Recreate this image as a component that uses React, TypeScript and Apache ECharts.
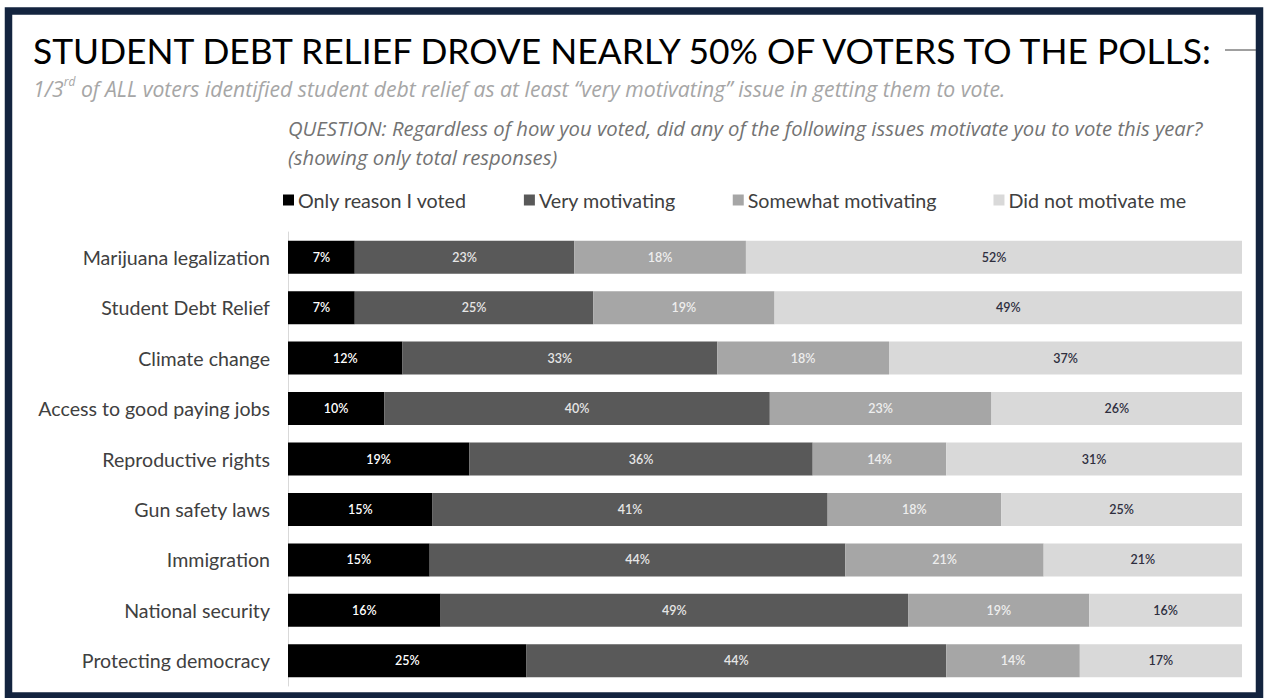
import React, { useEffect, useRef } from "react";
import * as echarts from "echarts";

const categories = [
  "Marijuana legalization",
  "Student Debt Relief",
  "Climate change",
  "Access to good paying jobs",
  "Reproductive rights",
  "Gun safety laws",
  "Immigration",
  "National security",
  "Protecting democracy",
];
const seriesNames = ["Only reason I voted", "Very motivating", "Somewhat motivating", "Did not motivate me"];
const onlyReason = [7, 7, 12, 10, 19, 15, 15, 16, 25];
const veryMotivating = [23, 25, 33, 40, 36, 41, 44, 49, 44];
const somewhatMotivating = [18, 19, 18, 23, 14, 18, 21, 19, 14];
const didNotMotivate = [52, 49, 37, 26, 31, 25, 21, 16, 17];

const FONT = "Lato, 'Open Sans', sans-serif";
const IFONT = "'Open Sans', Lato, sans-serif";

export default function App() {
  const ref = useRef<HTMLDivElement>(null);
  useEffect(() => {
    if (!ref.current) return;
    const chart = echarts.init(ref.current, null, { renderer: "svg" });
    const all = [onlyReason, veryMotivating, somewhatMotivating, didNotMotivate];
    const totals = categories.map((_, i) => all.reduce((s, arr) => s + arr[i], 0));
    const colors = ["#000000", "#595959", "#a6a6a6", "#d9d9d9"];
    const labelColors = ["#ffffff", "#e6e6e6", "#eeeeee", "#2e2e3e"];
    const series = all.map((arr, si) => ({
      name: seriesNames[si],
      type: "bar",
      stack: "total",
      barWidth: 33,
      itemStyle: { color: colors[si] },
      label: {
        show: true,
        position: "inside",
        color: labelColors[si],
        fontFamily: FONT,
        fontSize: 12.5,
        fontWeight: 600,
        formatter: (p: any) => p.data.raw + "%",
      },
      emphasis: { disabled: true },
      data: arr.map((v, i) => ({ value: (v / totals[i]) * 100, raw: v })),
    }));

    chart.setOption({
      animation: false,
      backgroundColor: "#ffffff",
      textStyle: { fontFamily: FONT },
      legend: {
        data: seriesNames,
        left: 283,
        top: 190,
        padding: 0,
        icon: "rect",
        itemWidth: 11,
        itemHeight: 11,
        itemGap: 57,
        textStyle: { fontSize: 19.7, color: "#404040", fontFamily: FONT, padding: [0, 0, 0, -1] },
        selectedMode: false,
      },
      grid: { left: 288, right: 25, top: 232, height: 454 },
      xAxis: { type: "value", min: 0, max: 100, show: false },
      yAxis: {
        type: "category",
        data: categories,
        inverse: true,
        axisLine: { show: true, lineStyle: { color: "#d9d9d9", width: 1 } },
        axisTick: { show: false },
        axisLabel: { fontSize: 19.6, color: "#404040", margin: 18, fontFamily: FONT },
      },
      series,
      graphic: [
        {
          type: "rect",
          shape: { x: 8.5, y: 11, width: 1251, height: 685 },
          style: { fill: "none", stroke: "#13243f", lineWidth: 7.5 },
          silent: true,
        },
        {
          type: "text",
          x: 33,
          y: 50,
          style: {
            text: "STUDENT DEBT RELIEF DROVE NEARLY 50% OF VOTERS TO THE POLLS:",
            fontSize: 35.4,
            fontFamily: FONT,
            fill: "#000000",
            verticalAlign: "middle",
          },
        },
        {
          type: "line",
          shape: { x1: 1225, y1: 50, x2: 1256, y2: 50 },
          style: { stroke: "#404040", lineWidth: 1 },
        },
        {
          type: "text",
          x: 33,
          y: 88,
          style: {
            text: "{a|1/3}{s|rd}{a| of ALL voters identified student debt relief as at least \u201cvery motivating\u201d issue in getting them to vote.}",
            verticalAlign: "middle",
            rich: {
              a: { fontSize: 21.2, fontStyle: "italic", fill: "#a6a6a6", fontFamily: IFONT, lineHeight: 26 },
              s: { fontSize: 12, fontStyle: "italic", fill: "#a6a6a6", fontFamily: IFONT, verticalAlign: "top", lineHeight: 26, padding: [0, 0, 9, 0] },
            },
          },
        },
        {
          type: "text",
          x: 288,
          y: 128,
          style: {
            text: "QUESTION: Regardless of how you voted, did any of the following issues motivate you to vote this year?",
            fontSize: 20.3,
            fontStyle: "italic",
            fontFamily: IFONT,
            fill: "#737373",
            verticalAlign: "middle",
          },
        },
        {
          type: "text",
          x: 288,
          y: 157,
          style: {
            text: "(showing only total responses)",
            fontSize: 20.3,
            fontStyle: "italic",
            fontFamily: IFONT,
            fill: "#737373",
            verticalAlign: "middle",
          },
        },
      ],
    });
    return () => chart.dispose();
  }, []);
  return <div ref={ref} style={{ position: "fixed", left: 0, top: 0, width: 1267, height: 698 }} />;
}
